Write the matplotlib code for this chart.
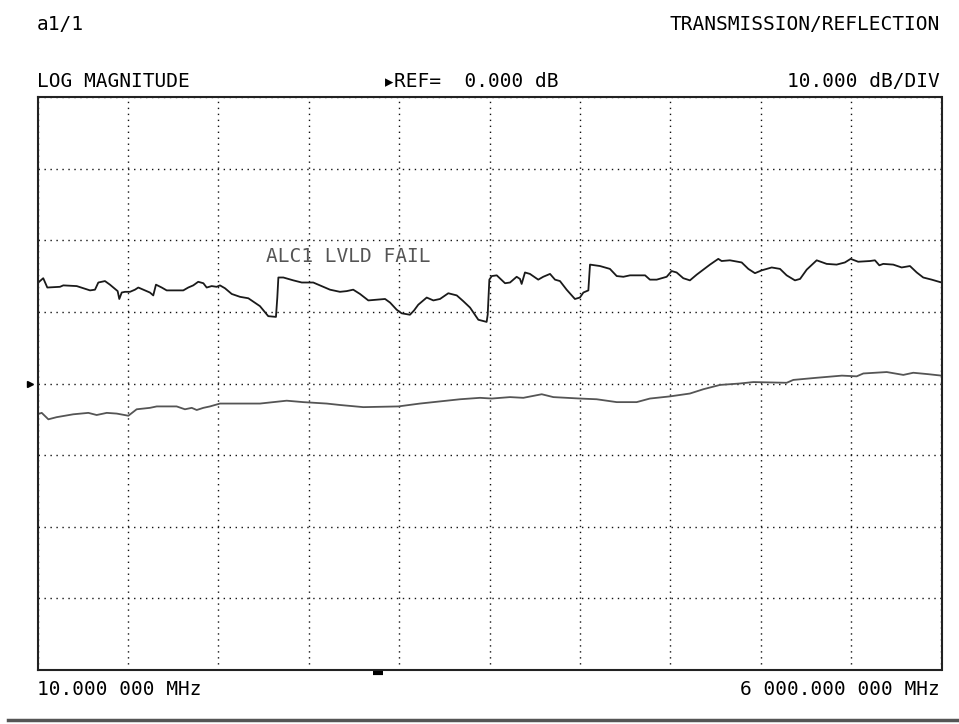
"""network analyzer screen copy: log magnitude, two traces
"""

import numpy as np
import matplotlib.pyplot as plt
from matplotlib.lines import Line2D

# channel 1 trace (upper), MHz / dB
freq_upper = [10, 15, 48, 75, 159, 181, 270, 313, 358, 391, 413, 457, 490,
              524, 541, 552, 568, 590, 623, 656, 678, 711, 755, 777, 795,
              833, 866, 932, 976, 1009, 1042, 1075, 1109, 1131, 1164, 1197,
              1219, 1252, 1297, 1352, 1407, 1484, 1539, 1590, 1599, 1606,
              1639, 1705, 1761, 1837, 1882, 1948, 2014, 2059, 2102, 2147,
              2202, 2258, 2313, 2346, 2390, 2423, 2478, 2505, 2533, 2589,
              2633, 2677, 2732, 2788, 2831, 2876, 2931, 2986, 2993, 3004,
              3020, 3053, 3108, 3141, 3185, 3207, 3218, 3240, 3273, 3328,
              3361, 3406, 3439, 3472, 3516, 3571, 3604, 3627, 3660, 3671,
              3737, 3803, 3848, 3892, 3936, 4036, 4068, 4113, 4179, 4212,
              4245, 4289, 4333, 4378, 4466, 4521, 4543, 4598, 4676, 4720,
              4764, 4809, 4875, 4930, 4974, 5029, 5063, 5107, 5173, 5239,
              5305, 5360, 5398, 5448, 5526, 5559, 5588, 5614, 5680, 5736,
              5791, 5836, 5879, 5935, 6000]
mag_upper = [12.4, 14.1, 14.7, 13.4, 13.5, 13.7, 13.6, 13.3, 13.0, 13.1,
             14.1, 14.3, 13.8, 13.2, 12.9, 11.8, 12.7, 12.8, 12.8, 13.1,
             13.4, 13.1, 12.7, 12.3, 13.8, 13.4, 13.0, 13.0, 13.0, 13.4,
             13.7, 14.2, 14.0, 13.4, 13.6, 13.5, 13.7, 13.3, 12.5, 12.1,
             11.9, 10.8, 9.4, 9.3, 12.0, 14.8, 14.8, 14.4, 14.1, 14.1,
             13.7, 13.1, 12.8, 12.9, 13.1, 12.5, 11.6, 11.7, 11.8, 11.3,
             10.3, 9.8, 9.6, 10.2, 11.0, 12.0, 11.6, 11.8, 12.6, 12.3,
             11.5, 10.6, 8.9, 8.6, 9.6, 14.5, 15.0, 15.1, 14.0, 14.1,
             14.9, 14.6, 13.9, 15.5, 15.3, 14.5, 14.9, 15.3, 14.5, 14.3,
             13.1, 11.8, 12.0, 12.7, 13.0, 16.6, 16.4, 16.0, 15.0, 14.9,
             15.1, 15.1, 14.5, 14.5, 14.9, 15.7, 15.5, 14.7, 14.4, 15.2,
             16.6, 17.4, 17.1, 17.2, 16.9, 16.0, 15.4, 15.8, 16.2, 16.0,
             15.1, 14.4, 14.6, 15.9, 17.2, 16.7, 16.6, 16.9, 17.4, 17.0,
             17.1, 17.2, 16.5, 16.7, 16.6, 16.2, 16.4, 15.5, 14.8, 14.5,
             14.1]

# lower trace
freq_lower = [10, 38, 82, 137, 247, 347, 402, 469, 535, 612, 667, 755, 800,
              932, 987, 1032, 1065, 1109, 1153, 1219, 1484, 1661, 1771, 1926,
              2014, 2169, 2401, 2544, 2677, 2810, 2942, 3020, 3141, 3229,
              3351, 3428, 3604, 3715, 3848, 3980, 4068, 4201, 4333, 4422,
              4532, 4664, 4753, 4974, 5018, 5173, 5340, 5438, 5482, 5637,
              5747, 5813, 5913, 6000]
mag_lower = [-4.3, -4.1, -5.0, -4.7, -4.3, -4.1, -4.4, -4.1, -4.2, -4.5,
             -3.6, -3.4, -3.2, -3.2, -3.6, -3.4, -3.7, -3.4, -3.2, -2.8,
             -2.8, -2.4, -2.6, -2.8, -3.0, -3.3, -3.2, -2.8, -2.5, -2.2,
             -2.0, -2.1, -1.9, -2.0, -1.5, -1.9, -2.1, -2.2, -2.6, -2.6,
             -2.1, -1.8, -1.4, -0.8, -0.2, 0.0, 0.2, 0.1, 0.5, 0.8, 1.1,
             1.0, 1.4, 1.6, 1.2, 1.5, 1.3, 1.1]

f_start = 10
f_stop = 6000
ref_level = 0.0
scale = 10.0
stim_marker = 2266

mono = 'DejaVu Sans Mono'
fs = 14

fig = plt.figure(figsize=(9.59, 7.24), dpi=100)
ax = fig.add_axes([37.5 / 959, 1 - 670 / 724, 904 / 959, 573 / 724])

ax.plot(freq_upper, mag_upper, color='#1a1a1a', lw=1.3)
ax.plot(freq_lower, mag_lower, color='#555555', lw=1.3)

ax.set_xlim(f_start, f_stop)
ax.set_ylim(ref_level - 4 * scale, ref_level + 4 * scale)
ax.set_xticks(np.linspace(f_start, f_stop, 11))
ax.set_yticks(np.arange(-4, 5) * scale + ref_level)
ax.tick_params(length=0, labelbottom=False, labelleft=False)
ax.grid(True, color='#111111', lw=1.0, linestyle=(0, (1, 3.3)))
for s in ax.spines.values():
    s.set_linewidth(1.5)
    s.set_color('#222222')

# reference position arrow and stimulus marker
ax.plot([-0.008], [ref_level], marker='>', color='black', ms=5,
        transform=ax.get_yaxis_transform(), clip_on=False)
ax.plot([stim_marker - 35, stim_marker + 35], [-0.006, -0.006],
        color='black', lw=3, solid_capstyle='butt',
        transform=ax.get_xaxis_transform(), clip_on=False)

fig.text(266 / 959, 1 - 262 / 724, 'ALC1 LVLD FAIL', family=mono,
         fontsize=fs, color='#555555', va='baseline')

fig.text(37 / 959, 1 - 30 / 724, 'a1/1', family=mono, fontsize=fs,
         va='baseline')
fig.text(940 / 959, 1 - 30 / 724, 'TRANSMISSION/REFLECTION', family=mono,
         fontsize=fs, va='baseline', ha='right')
fig.text(37 / 959, 1 - 87 / 724, 'LOG MAGNITUDE', family=mono, fontsize=fs,
         va='baseline')
fig.text(385 / 959, 1 - 87 / 724, '\u25b8', family='DejaVu Sans',
         fontsize=12, va='baseline')
fig.text(394 / 959, 1 - 87 / 724, 'REF=  0.000 dB', family=mono,
         fontsize=fs, va='baseline')
fig.text(940 / 959, 1 - 87 / 724, '10.000 dB/DIV', family=mono,
         fontsize=fs, va='baseline', ha='right')
fig.text(37 / 959, 1 - 695 / 724, '10.000 000 MHz', family=mono,
         fontsize=fs, va='baseline')
fig.text(940 / 959, 1 - 695 / 724, '6 000.000 000 MHz', family=mono,
         fontsize=fs, va='baseline', ha='right')

fig.add_artist(Line2D([8 / 959, 1], [1 - 720 / 724] * 2, color='#555555',
                      lw=2.5, transform=fig.transFigure))

fig.savefig('out.png', dpi=100)
